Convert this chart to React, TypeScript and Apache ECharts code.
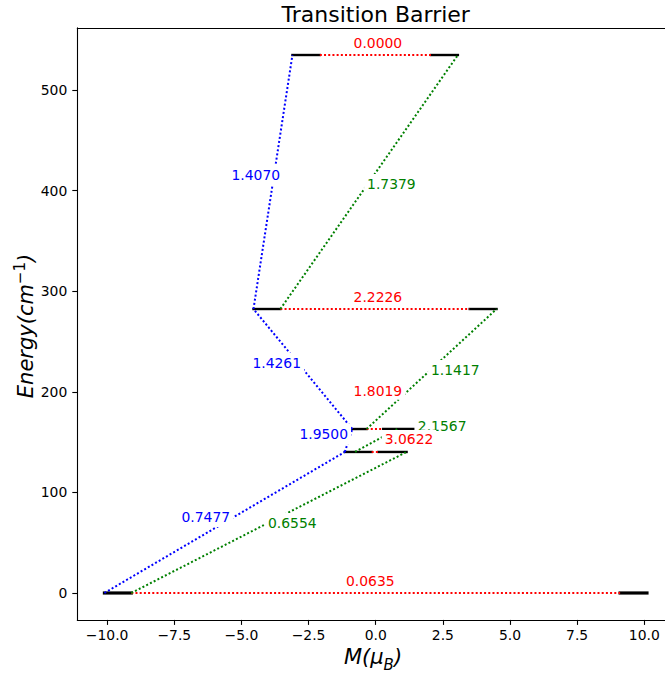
import React, { useEffect, useRef } from "react";
import * as echarts from "echarts";

// Energies of the Kramers doublets (cm^-1)
const levelEnergy = [0, 140.2, 163.0, 282.3, 534.8];
// Bar of the negative-M state of each doublet (from / to, in μB)
const leftFrom = [-10.1, -1.15, -0.87, -4.55, -3.1];
const leftTo = [-9.1, -0.15, -0.34, -3.55, -2.08];
// Bar of the positive-M state of each doublet
const rightFrom = [9.1, 0.1, 0.28, 3.5, 2.06];
const rightTo = [10.1, 1.15, 1.4, 4.5, 3.06];

// QTM / TA-QTM within each doublet (red)
const qtmValues = ["0.0635", "3.0622", "1.8019", "2.2226", "0.0000"];
const qtmLabelM = [-0.2, 1.24, 0.08, 0.08, 0.08];
const qtmLabelE = [10, 151, 199, 292.2, 544.7];

// Same-side transitions (blue): [M start, E start, M end, E end]
const blueSegments = [
  [-10.1, 0, -1.15, 140.2],
  [-1.15, 140.2, -0.87, 163.0],
  [-0.87, 163.0, -4.55, 282.3],
  [-4.55, 282.3, -3.1, 534.8],
];
const blueValues = ["0.7477", "1.9500", "1.4261", "1.4070"];
const blueLabelM = [-5.42, -1.03, -2.78, -3.56];
const blueLabelE = [75.5, 158, 228.9, 415.5];

// Cross transitions (green): [M start, E start, M end, E end]
const greenSegments = [
  [-9.1, 0, 1.15, 140.2],
  [-0.77, 140.2, 0.8, 163.0],
  [-0.34, 163.0, 4.5, 282.3],
  [-3.55, 282.3, 3.06, 534.8],
];
const greenValues = ["0.6554", "2.1567", "1.1417", "1.7379"];
const greenLabelM = [-4.01, 1.57, 2.06, -0.32];
const greenLabelE = [69.6, 166, 221.7, 406.6];

const xTicks = [-10, -7.5, -5, -2.5, 0, 2.5, 5, 7.5, 10];
const yTicks = [0, 100, 200, 300, 400, 500];

const FONT = "'DejaVu Sans', sans-serif";
const DOT = [2, 2.2];

function fmtX(v: number) {
  const s = Math.abs(v).toFixed(1);
  return v < 0 ? "\u2212" + s : s;
}

function segmentSeries(
  segs: number[][],
  color: string,
  width: (i: number) => number,
  dash: number[] | null,
  z: number
) {
  return {
    type: "custom",
    coordinateSystem: "cartesian2d",
    clip: false,
    silent: true,
    z,
    data: segs,
    encode: { x: [0, 2], y: [1, 3] },
    renderItem: (params: any, api: any) => {
      const a = api.coord([api.value(0), api.value(1)]);
      const b = api.coord([api.value(2), api.value(3)]);
      return {
        type: "line",
        shape: { x1: a[0], y1: a[1], x2: b[0], y2: b[1] },
        style: {
          stroke: color,
          lineWidth: width(params.dataIndex),
          lineDash: dash || undefined,
          lineCap: dash ? "butt" : "square",
          fill: null,
        },
      };
    },
  };
}

function labelSeries(
  texts: string[],
  ms: number[],
  es: number[],
  color: string,
  align: string,
  padding: number[],
  z: number
) {
  return {
    type: "custom",
    coordinateSystem: "cartesian2d",
    clip: false,
    silent: true,
    z,
    data: ms.map((m, i) => [m, es[i]]),
    renderItem: (params: any, api: any) => {
      const p = api.coord([api.value(0), api.value(1)]);
      const padX = padding[1];
      return {
        type: "text",
        x: p[0] + (align === "right" ? padX : align === "left" ? -padX : 0),
        y: p[1] + (padding[2] - padding[0]) / 2,
        style: {
          text: texts[params.dataIndex],
          fill: color,
          fontSize: 13.9,
          fontFamily: FONT,
          align,
          verticalAlign: "middle",
          backgroundColor: "#ffffff",
          padding,
        },
      };
    },
  };
}

export default function App() {
  const ref = useRef<HTMLDivElement>(null);

  useEffect(() => {
    if (!ref.current) return;
    const chart = echarts.init(ref.current, null, { renderer: "svg" });

    const bars: number[][] = [];
    const barW: number[] = [];
    levelEnergy.forEach((e, i) => {
      bars.push([leftFrom[i], e, leftTo[i], e]);
      barW.push(i === 0 ? 3.2 : 2.4);
      bars.push([rightFrom[i], e, rightTo[i], e]);
      barW.push(i === 0 ? 3.2 : 2.4);
    });
    const qtmSegs = levelEnergy.map((e, i) => [leftTo[i], e, rightFrom[i], e]);

    const axisLineStyle = { color: "#000", width: 1.1 };
    const ital = { fontSize: 21, fontStyle: "italic", fontFamily: FONT, fill: "#000" };

    chart.setOption({
      animation: false,
      backgroundColor: "#ffffff",
      grid: { left: 77.3, right: 15.9, top: 27.9, bottom: 57.1, containLabel: false },
      xAxis: [
        {
          type: "value",
          position: "bottom",
          min: -11.11,
          max: 11.11,
          axisLine: { show: true, onZero: false, lineStyle: axisLineStyle },
          axisTick: { show: true, length: 5, lineStyle: axisLineStyle, customValues: xTicks },
          axisLabel: {
            customValues: xTicks,
            formatter: (v: number) => fmtX(v),
            color: "#000",
            fontSize: 13.9,
            fontFamily: FONT,
            margin: 8,
          },
          splitLine: { show: false },
        },
        {
          type: "value",
          position: "top",
          min: -11.11,
          max: 11.11,
          axisLine: { show: true, onZero: false, lineStyle: axisLineStyle },
          axisTick: { show: false },
          axisLabel: { show: false },
          splitLine: { show: false },
        },
      ],
      yAxis: {
        type: "value",
        min: -26.75,
        max: 561.75,
        axisLine: { show: true, onZero: false, lineStyle: axisLineStyle },
        axisTick: { show: true, length: 5, lineStyle: axisLineStyle, customValues: yTicks },
        axisLabel: {
          customValues: yTicks,
          color: "#000",
          fontSize: 13.9,
          fontFamily: FONT,
          margin: 10,
        },
        splitLine: { show: false },
      },
      graphic: [
        {
          type: "text",
          x: 375.7,
          y: 14,
          style: {
            text: "Transition Barrier",
            fill: "#000",
            fontSize: 22,
            fontFamily: FONT,
            align: "center",
            verticalAlign: "middle",
          },
        },
        {
          type: "text",
          x: 373,
          y: 659,
          style: {
            text: "{i|M(μ}{s|B}{i|)}",
            align: "center",
            verticalAlign: "middle",
            rich: {
              i: { ...ital, verticalAlign: "bottom", padding: [0, 0, 5, 0] },
              s: { ...ital, fontSize: 15, verticalAlign: "bottom" },
            },
          },
        },
        {
          type: "text",
          x: 24,
          y: 326,
          rotation: Math.PI / 2,
          style: {
            text: "{i|Energy(cm}{s|\u22121}{i|)}",
            align: "center",
            verticalAlign: "middle",
            rich: {
              i: { ...ital, verticalAlign: "bottom" },
              s: { fontSize: 15, fontFamily: FONT, fill: "#000", verticalAlign: "bottom", padding: [0, 0, 9, 0] },
            },
          },
        },
      ],
      series: [
        segmentSeries(bars, "#000000", (i) => barW[i], null, 2),
        segmentSeries(qtmSegs, "#ff0000", () => 2, DOT, 3),
        segmentSeries(blueSegments, "#0000ff", () => 2, DOT, 3),
        segmentSeries(greenSegments, "#008000", () => 2, DOT, 3),
        labelSeries(blueValues, blueLabelM, blueLabelE, "#0000ff", "right", [3, 3, 3, 3], 5),
        labelSeries(greenValues, greenLabelM, greenLabelE, "#008000", "left", [3, 3, 3, 3], 5),
        labelSeries(qtmValues, qtmLabelM, qtmLabelE, "#ff0000", "center", [4, 3, 0, 3], 6),
      ],
    });

    return () => chart.dispose();
  }, []);

  return (
    <div
      style={{
        position: "fixed",
        left: 0,
        top: 0,
        width: 665,
        height: 677,
        overflow: "hidden",
        background: "#fff",
      }}
    >
      <div ref={ref} style={{ width: 690, height: 677 }} />
    </div>
  );
}
